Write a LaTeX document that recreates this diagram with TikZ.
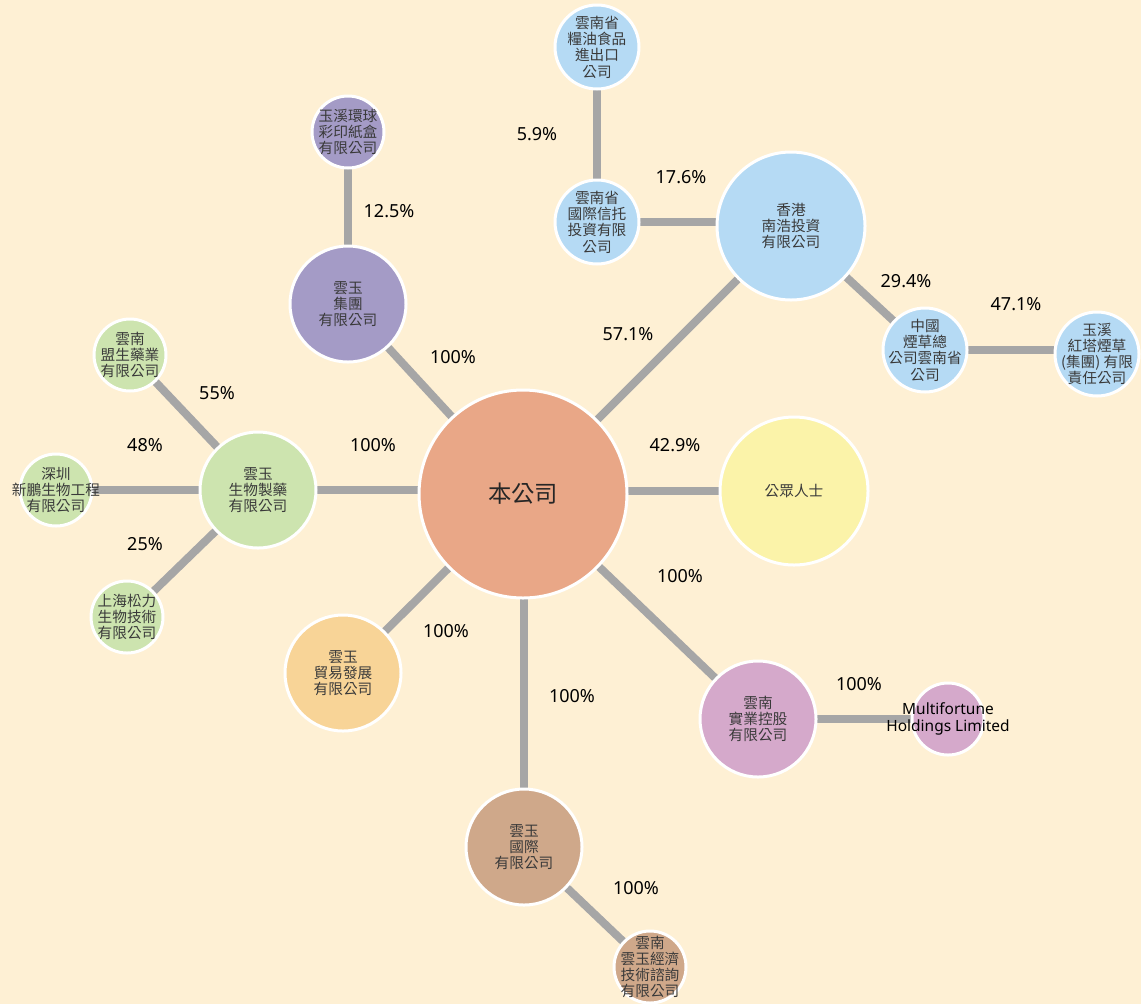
\documentclass[tikz,border=0pt]{standalone}
\usepackage{fontspec}
\setmainfont{Noto Sans}
\newfontfamily\cjk{Noto Sans CJK TC}
\usetikzlibrary{calc}
\pgfdeclarelayer{bg}
\pgfdeclarelayer{lines}
\pgfsetlayers{bg,lines,main}

\definecolor{bgcol}{HTML}{FEF0D4}
\definecolor{linkcol}{HTML}{A6A6A6}
\definecolor{txtcol}{HTML}{3A3A3A}
\definecolor{salmon}{HTML}{E9A787}
\definecolor{yellowc}{HTML}{FBF3A9}
\definecolor{bluec}{HTML}{B5DAF4}
\definecolor{purplec}{HTML}{A49BC6}
\definecolor{greenc}{HTML}{CDE4AF}
\definecolor{orangec}{HTML}{F8D497}
\definecolor{brownc}{HTML}{CFA88A}
\definecolor{pinkc}{HTML}{D5A9CB}

\tikzset{
  co/.style={circle, draw=white, line width=2.25pt, inner sep=0pt}, % 円
  txt/.style={align=center, text=txtcol, inner sep=0pt, font=\cjk\fontsize{11}{12.2}\selectfont}, % 円の中の文字
  link/.style={linkcol, line width=6pt}, % 接続線
  pct/.style={font=\fontsize{13.5}{15}\selectfont, text=black} % 割合
}

\begin{document}
\begin{tikzpicture}[x=0.75pt, y=-0.75pt]
  \useasboundingbox (0,0) rectangle (1141,1004);
  \begin{pgfonlayer}{bg}
    \fill[bgcol] (0,0) rectangle (1141,1004); % 背景
  \end{pgfonlayer}

  % 中心
  \node[co, fill=salmon, minimum size=156pt, label={[txt, text=black!85, font=\cjk\fontsize{17.5}{20}\selectfont]center:本公司}] (hub) at (523,494) {};

  % 株主側
  \node[co, fill=yellowc, minimum size=111pt, label={[txt]center:公眾人士}] (public) at (794,491) {};
  \node[co, fill=bluec, minimum size=111pt, label={[txt]center:香港\\南浩投資\\有限公司}] (nanhao) at (791,226) {};
  \node[co, fill=bluec, minimum size=63pt, label={[txt]center:雲南省\\國際信托\\投資有限\\公司}] (trust) at (597,222) {};
  \node[co, fill=bluec, minimum size=63pt, label={[txt]center:雲南省\\糧油食品\\進出口\\公司}] (grain) at (597,47) {};
  \node[co, fill=bluec, minimum size=63pt, label={[txt]center:中國\\煙草總\\公司雲南省\\公司}] (tobacco) at (925,350) {};
  \node[co, fill=bluec, minimum size=63pt, label={[txt]center:玉溪\\紅塔煙草\\(集團) 有限\\責任公司}] (hongta) at (1097,354) {};

  % 子会社
  \node[co, fill=purplec, minimum size=87pt, label={[txt]center:雲玉\\集團\\有限公司}] (group) at (348,304) {};
  \node[co, fill=purplec, minimum size=54pt, label={[txt]center:玉溪環球\\彩印紙盒\\有限公司}] (print) at (348,132) {};
  \node[co, fill=greenc, minimum size=87pt, label={[txt]center:雲玉\\生物製藥\\有限公司}] (bio) at (258,490) {};
  \node[co, fill=greenc, minimum size=54pt, label={[txt]center:雲南\\盟生藥業\\有限公司}] (mengsheng) at (130,355) {};
  \node[co, fill=greenc, minimum size=54pt, label={[txt]center:深圳\\新鵬生物工程\\有限公司}] (shenzhen) at (56,490) {};
  \node[co, fill=greenc, minimum size=54pt, label={[txt]center:上海松力\\生物技術\\有限公司}] (shanghai) at (127,617) {};
  \node[co, fill=orangec, minimum size=87pt, label={[txt]center:雲玉\\貿易發展\\有限公司}] (trade) at (343,673) {};
  \node[co, fill=brownc, minimum size=87pt, label={[txt]center:雲玉\\國際\\有限公司}] (intl) at (524,847) {};
  \node[co, fill=brownc, minimum size=54pt, label={[txt]center:雲南\\雲玉經濟\\技術諮詢\\有限公司}] (consult) at (650,967) {};
  \node[co, fill=pinkc, minimum size=87pt, label={[txt]center:雲南\\實業控股\\有限公司}] (holding) at (758,719) {};
  \node[co, fill=pinkc, minimum size=54pt, label={[txt, text=black, font=\fontsize{11.6}{13}\selectfont]center:Multifortune\\Holdings Limited}] (multi) at (948,719) {};

  % 接続線
  \begin{pgfonlayer}{lines}
    \foreach \a/\b in {hub/nanhao, trust/grain, nanhao/tobacco, hub/group, group/print,
                       bio/mengsheng, bio/shanghai, hub/trade, intl/consult, hub/holding}
      \draw[link] (\a.center) -- (\b.center);
    % 水平・垂直の線
    \foreach \a/\b in {public/hub, trust/nanhao, tobacco/hongta, bio/hub, shenzhen/bio, holding/multi}
      \draw[link] (\a.center) -- (\a.center -| \b.center);
    \draw[link] (intl.center) -- (intl.center |- hub.center);
  \end{pgfonlayer}

  % 割合
  \node[pct] (p1) at (537,134) {5.9\%};
  \node[pct] (p2) at (389,211) {12.5\%};
  \node[pct] (p3) at (681,177) {17.6\%};
  \node[pct] (p4) at (906,281) {29.4\%};
  \node[pct] (p5) at (1016,304) {47.1\%};
  \node[pct] (p6) at (628,334) {57.1\%};
  \node[pct] (p7) at (453,357) {100\%};
  \node[pct] (p8) at (217,393) {55\%};
  \node[pct] (p9) at (145,445) {48\%};
  \node[pct] (p10) at (373,445) {100\%};
  \node[pct] (p11) at (675,445) {42.9\%};
  \node[pct] (p12) at (145,544) {25\%};
  \node[pct] (p13) at (680,576) {100\%};
  \node[pct] (p14) at (446,631) {100\%};
  \node[pct] (p15) at (572,696) {100\%};
  \node[pct] (p16) at (859,684) {100\%};
  \node[pct] (p17) at (636,888) {100\%};
\end{tikzpicture}
\end{document}
